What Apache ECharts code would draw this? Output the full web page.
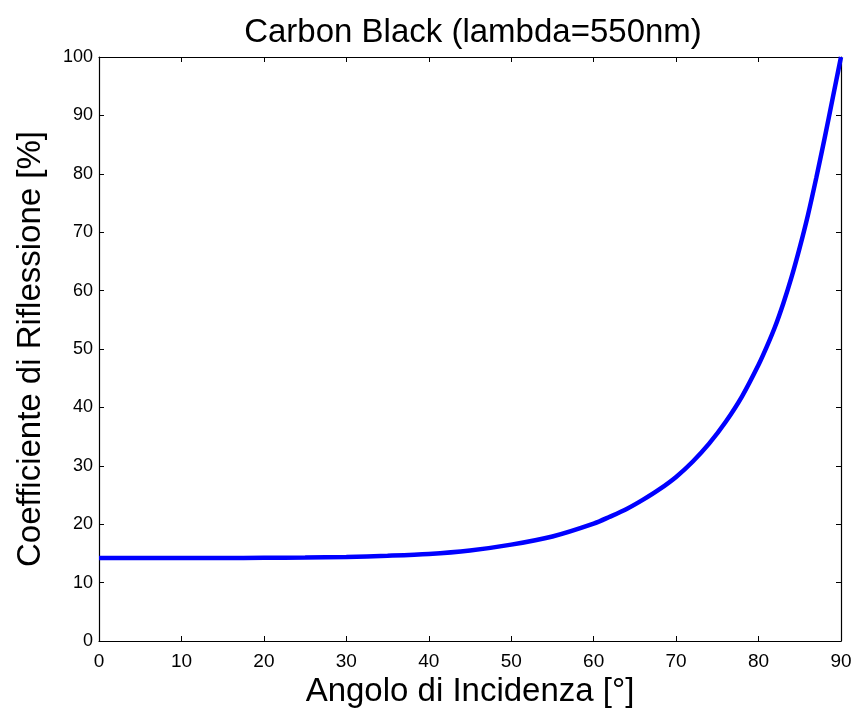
<!DOCTYPE html>
<html>
<head>
<meta charset="utf-8">
<script src="https://cdn.jsdelivr.net/npm/echarts@6/dist/echarts.min.js"></script>
<style>
  html, body { margin: 0; padding: 0; background: #fff; }
  #chart { width: 857px; height: 715px; }
</style>
</head>
<body>
<div id="chart"></div>
<script>
// Angle of incidence (degrees) and reflection coefficient (%)
const angles = [0, 5, 10, 15, 20, 25, 30, 35, 40, 45, 50, 55, 60, 62, 64, 66, 68, 70,
                72, 74, 76, 78, 80, 81, 82, 83, 84, 85, 86, 87, 88, 89, 90];
const reflectance = [14.2, 14.2, 14.2, 14.2, 14.25, 14.3, 14.4, 14.6, 14.9, 15.5, 16.5, 17.9, 20.1, 21.3, 22.6, 24.2, 26.0, 28.1,
                     30.7, 33.8, 37.5, 41.9, 47.3, 50.4, 53.8, 57.8, 62.3, 67.4, 73.0, 79.3, 86.0, 93.0, 100];
const xTicks = [0, 10, 20, 30, 40, 50, 60, 70, 80, 90];
const yTicks = [0, 10, 20, 30, 40, 50, 60, 70, 80, 90, 100];

const FONT = '"Liberation Sans", Arial, sans-serif';
const chart = echarts.init(document.getElementById('chart'));

// box frame: axis lines on all four sides, ticks pointing inwards
const frameLine = { show: true, onZero: false, lineStyle: { color: '#000', width: 1.2 } };
const innerTick = { show: true, inside: true, length: 5, lineStyle: { color: '#000', width: 1 } };

chart.setOption({
  animation: false,
  backgroundColor: '#fff',
  title: {
    text: 'Carbon Black (lambda=550nm)',
    left: 468, top: 11, textAlign: 'center',
    textStyle: { fontFamily: FONT, fontSize: 33, fontWeight: 'normal', color: '#000' }
  },
  grid: { left: 99, right: 16, top: 57, bottom: 74, containLabel: false },
  xAxis: [
    {
      type: 'value', min: 0, max: 90, interval: 10, position: 'bottom',
      name: 'Angolo di Incidenza [°]', nameLocation: 'middle', nameGap: 34,
      nameTextStyle: { fontFamily: FONT, fontSize: 33, color: '#000' },
      axisLine: frameLine, axisTick: innerTick, splitLine: { show: false },
      axisLabel: { fontFamily: FONT, fontSize: 19, color: '#000', margin: 11,
                   customValues: xTicks },
    },
    {
      type: 'value', min: 0, max: 90, interval: 10, position: 'top',
      axisLine: frameLine, axisTick: innerTick, splitLine: { show: false },
      axisLabel: { show: false }
    }
  ],
  yAxis: [
    {
      type: 'value', min: 0, max: 100, interval: 10, position: 'left',
      name: 'Coefficiente di Riflessione [%]', nameLocation: 'middle', nameGap: 52,
      nameTextStyle: { fontFamily: FONT, fontSize: 33, color: '#000' },
      axisLine: frameLine, axisTick: innerTick, splitLine: { show: false },
      axisLabel: { fontFamily: FONT, fontSize: 18, color: '#000', margin: 6,
                   customValues: yTicks }
    },
    {
      type: 'value', min: 0, max: 100, interval: 10, position: 'right',
      axisLine: frameLine, axisTick: innerTick, splitLine: { show: false },
      axisLabel: { show: false }
    }
  ],
  series: [{
    type: 'line',
    data: angles.map((a, i) => [a, reflectance[i]]),
    smooth: 0.3,
    showSymbol: false,
    lineStyle: { color: '#0000ff', width: 4.5 },
    clip: false
  }]
});
</script>
</body>
</html>
